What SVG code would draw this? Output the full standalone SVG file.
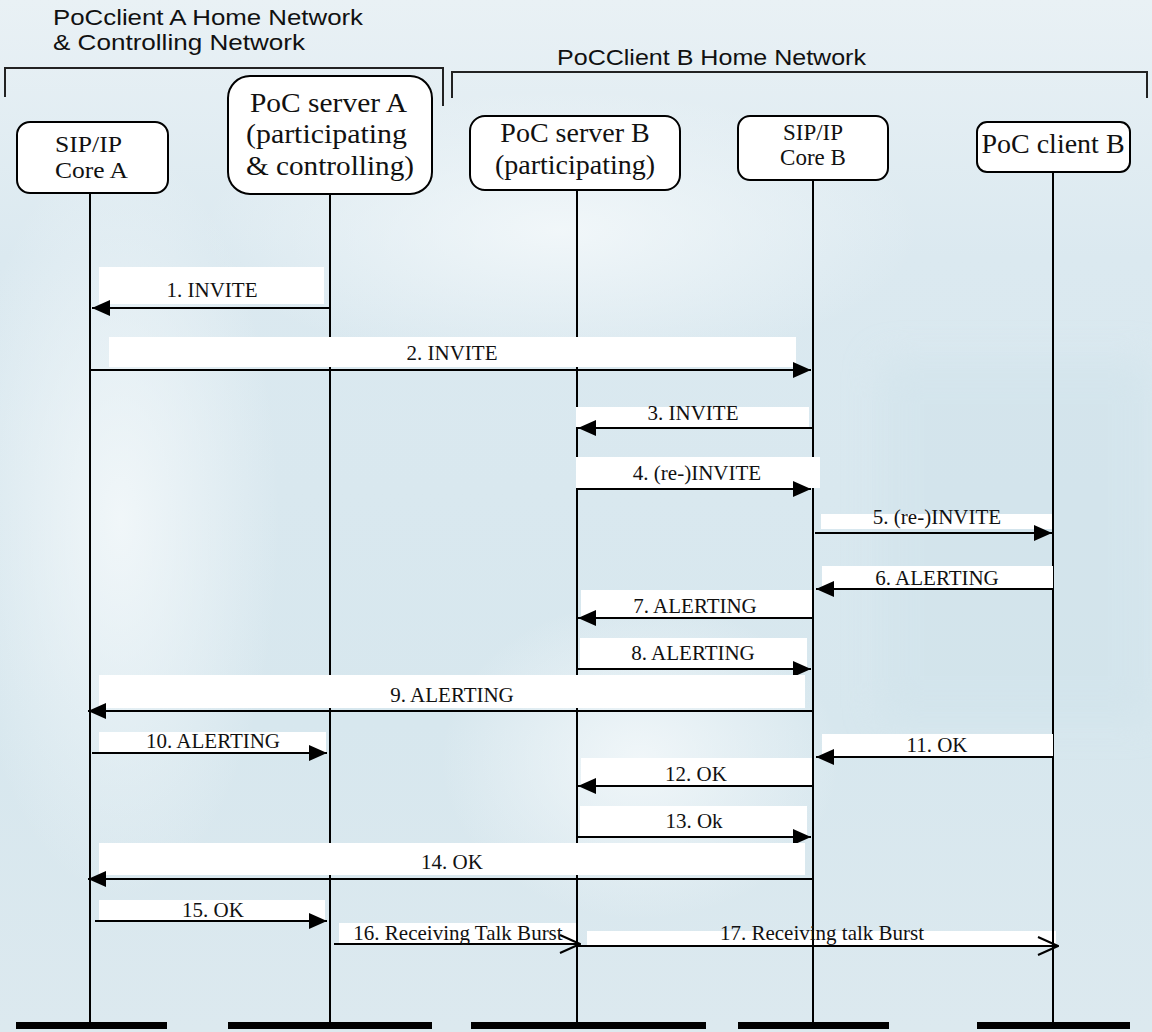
<svg xmlns="http://www.w3.org/2000/svg" width="1152" height="1032" viewBox="0 0 1152 1032">
  <defs>
    <style>
      .hdr { font-family: "Liberation Sans", Arial, sans-serif; font-size: 22px; fill: #111; }
      .nbox { fill: #fff; stroke: #000; stroke-width: 2; }
      .nt { font-family: "Liberation Serif", "Times New Roman", serif; text-anchor: middle; fill: #111; }
      .big { font-size: 28px; }
      .small { font-size: 23px; }
      .life { stroke: #000; stroke-width: 2; }
      .bar { fill: #000; }
      .brk { fill: none; stroke: #222; stroke-width: 2; }
      .lb { fill: #fff; }
      .msg { stroke: #000; stroke-width: 2.2; fill: none; }
      .solid { marker-end: url(#af); }
      .open { marker-end: url(#ao); }
      .lt { font-family: "Liberation Serif", "Times New Roman", serif; font-size: 21px; text-anchor: middle; fill: #111; }
    </style>
    <marker id="af" markerUnits="userSpaceOnUse" markerWidth="18" markerHeight="16" refX="18" refY="8" orient="auto">
      <path d="M0,0 L18,8 L0,16 Z" fill="#000"/>
    </marker>
    <marker id="ao" markerUnits="userSpaceOnUse" markerWidth="22" markerHeight="20" refX="21" refY="10" orient="auto">
      <path d="M1,1 L21,10 L1,19" fill="none" stroke="#000" stroke-width="2"/>
    </marker>
    <linearGradient id="bg" x1="0" y1="0" x2="0" y2="1">
      <stop offset="0" stop-color="#e9f1f5"/>
      <stop offset="0.25" stop-color="#dbe9f0"/>
      <stop offset="0.7" stop-color="#d7e7ee"/>
      <stop offset="1" stop-color="#dce9ef"/>
    </linearGradient>
    <radialGradient id="haze" cx="0.5" cy="0.5" r="0.5">
      <stop offset="0" stop-color="#f3f8fa" stop-opacity="0.9"/>
      <stop offset="1" stop-color="#f3f8fa" stop-opacity="0"/>
    </radialGradient>
    <filter id="soft" x="-20%" y="-20%" width="140%" height="140%">
      <feGaussianBlur stdDeviation="18"/>
    </filter>
  </defs>

  <!-- faded backdrop -->
  <g id="backdrop">
    <rect x="0" y="0" width="1152" height="1032" fill="url(#bg)"/>
    <ellipse cx="120" cy="520" rx="160" ry="380" fill="url(#haze)"/>
    <ellipse cx="560" cy="230" rx="360" ry="140" fill="url(#haze)"/>
    <ellipse cx="640" cy="760" rx="200" ry="160" fill="url(#haze)"/>
    <rect x="880" y="360" width="272" height="360" fill="#cfe2ea" opacity="0.5" filter="url(#soft)"/>
  </g>

  <!-- network headers and brackets -->
  <g id="networks">
    <text class="hdr" x="53" y="25" textLength="310" lengthAdjust="spacingAndGlyphs">PoCclient A Home Network</text>
    <text class="hdr" x="53" y="50" textLength="252" lengthAdjust="spacingAndGlyphs">&amp; Controlling Network</text>
    <path class="brk" d="M5,97 V68 H443 V106"/>
    <text class="hdr" x="557" y="65" textLength="309" lengthAdjust="spacingAndGlyphs">PoCClient B Home Network</text>
    <path class="brk" d="M452,98 V72 H1147 V98"/>
  </g>

  <!-- lifeline participants -->
  <g id="sip-core-a">
    <line class="life" x1="90" y1="193" x2="90" y2="1024"/>
    <rect class="nbox" x="17" y="122" width="151" height="71" rx="13"/>
    <text class="nt small" x="88.5" y="152" textLength="67" lengthAdjust="spacingAndGlyphs">SIP/IP</text>
    <text class="nt small" x="91.5" y="178" textLength="73" lengthAdjust="spacingAndGlyphs">Core A</text>
    <rect class="bar" x="16" y="1022" width="151" height="7"/>
  </g>
  <g id="poc-server-a">
    <line class="life" x1="330" y1="194" x2="330" y2="1024"/>
    <rect class="nbox" x="228" y="76" width="204" height="118" rx="22"/>
    <text class="nt big" x="328.5" y="112" textLength="157" lengthAdjust="spacingAndGlyphs">PoC server A</text>
    <text class="nt big" x="326.5" y="143" textLength="161" lengthAdjust="spacingAndGlyphs">(participating</text>
    <text class="nt big" x="330" y="175" textLength="168" lengthAdjust="spacingAndGlyphs">&amp; controlling)</text>
    <rect class="bar" x="228" y="1022" width="204" height="7"/>
  </g>
  <g id="poc-server-b">
    <rect class="lb" x="587" y="931" width="469" height="15"/>
    <rect class="lb" x="339" y="923" width="239" height="20"/>
    <line class="life" x1="577" y1="190" x2="577" y2="1024"/>
    <rect class="nbox" x="470" y="116" width="210" height="74" rx="15"/>
    <text class="nt big" x="575" y="142">PoC server B</text>
    <text class="nt big" x="575" y="174">(participating)</text>
    <rect class="bar" x="471" y="1022" width="235" height="7"/>
  </g>
  <g id="sip-core-b">
    <line class="life" x1="813" y1="180" x2="813" y2="1024"/>
    <rect class="nbox" x="738" y="116" width="150" height="64" rx="12"/>
    <text class="nt small" x="813" y="140">SIP/IP</text>
    <text class="nt small" x="813" y="165">Core B</text>
    <rect class="bar" x="738" y="1022" width="151" height="7"/>
  </g>
  <g id="poc-client-b">
    <line class="life" x1="1053" y1="172" x2="1053" y2="1024"/>
    <rect class="nbox" x="977" y="122" width="153" height="50" rx="10"/>
    <text class="nt big" x="1053" y="153">PoC client B</text>
    <rect class="bar" x="977" y="1022" width="153" height="7"/>
  </g>

  <!-- messages -->
  <g id="connectors">
    <rect class="lb" x="99" y="267" width="225" height="37"/>
    <line class="msg solid" x1="330" y1="308" x2="92" y2="308"/>
    <text class="lt" x="212" y="297">1. INVITE</text>

    <rect class="lb" x="109" y="337" width="687" height="30"/>
    <line class="msg solid" x1="90" y1="370" x2="811" y2="370"/>
    <text class="lt" x="452" y="360">2. INVITE</text>

    <rect class="lb" x="576" y="407" width="233" height="20"/>
    <line class="msg solid" x1="813" y1="428" x2="578" y2="428"/>
    <text class="lt" x="693" y="420">3. INVITE</text>

    <rect class="lb" x="576" y="457" width="244" height="31"/>
    <line class="msg solid" x1="577" y1="489" x2="811" y2="489"/>
    <text class="lt" x="697" y="480">4. (re-)INVITE</text>

    <rect class="lb" x="821" y="514" width="231" height="15"/>
    <line class="msg solid" x1="815" y1="533" x2="1052" y2="533"/>
    <text class="lt" x="937" y="524">5. (re-)INVITE</text>

    <rect class="lb" x="822" y="566" width="231" height="22"/>
    <line class="msg solid" x1="1053" y1="589" x2="816" y2="589"/>
    <text class="lt" x="937" y="585">6. ALERTING</text>

    <rect class="lb" x="581" y="590" width="231" height="27"/>
    <line class="msg solid" x1="813" y1="618" x2="578" y2="618"/>
    <text class="lt" x="695" y="613">7. ALERTING</text>

    <rect class="lb" x="580" y="638" width="227" height="30"/>
    <line class="msg solid" x1="577" y1="669" x2="811" y2="669"/>
    <text class="lt" x="693" y="660">8. ALERTING</text>

    <rect class="lb" x="99" y="675" width="706" height="33"/>
    <line class="msg solid" x1="813" y1="711" x2="88" y2="711"/>
    <text class="lt" x="452" y="702">9. ALERTING</text>

    <rect class="lb" x="99" y="732" width="227" height="20"/>
    <line class="msg solid" x1="92" y1="753" x2="327" y2="753"/>
    <text class="lt" x="213" y="748">10. ALERTING</text>

    <rect class="lb" x="822" y="734" width="231" height="23"/>
    <line class="msg solid" x1="1053" y1="757" x2="816" y2="757"/>
    <text class="lt" x="937" y="752">11. OK</text>

    <rect class="lb" x="581" y="758" width="231" height="27"/>
    <line class="msg solid" x1="813" y1="786" x2="578" y2="786"/>
    <text class="lt" x="696" y="781">12. OK</text>

    <rect class="lb" x="580" y="806" width="227" height="30"/>
    <line class="msg solid" x1="577" y1="837" x2="811" y2="837"/>
    <text class="lt" x="694" y="828">13. Ok</text>

    <rect class="lb" x="99" y="843" width="706" height="32"/>
    <line class="msg solid" x1="813" y1="879" x2="88" y2="879"/>
    <text class="lt" x="452" y="869">14. OK</text>

    <rect class="lb" x="99" y="900" width="226" height="20"/>
    <line class="msg solid" x1="95" y1="921" x2="327" y2="921"/>
    <text class="lt" x="213" y="917">15. OK</text>

    <line class="msg open" x1="334" y1="944" x2="580" y2="944"/>
    <text class="lt" x="458" y="940">16. Receiving Talk Burst</text>

    <line class="msg open" x1="578" y1="946" x2="1058" y2="946"/>
    <text class="lt" x="822" y="940">17. Receiving talk Burst</text>
  </g>
</svg>
